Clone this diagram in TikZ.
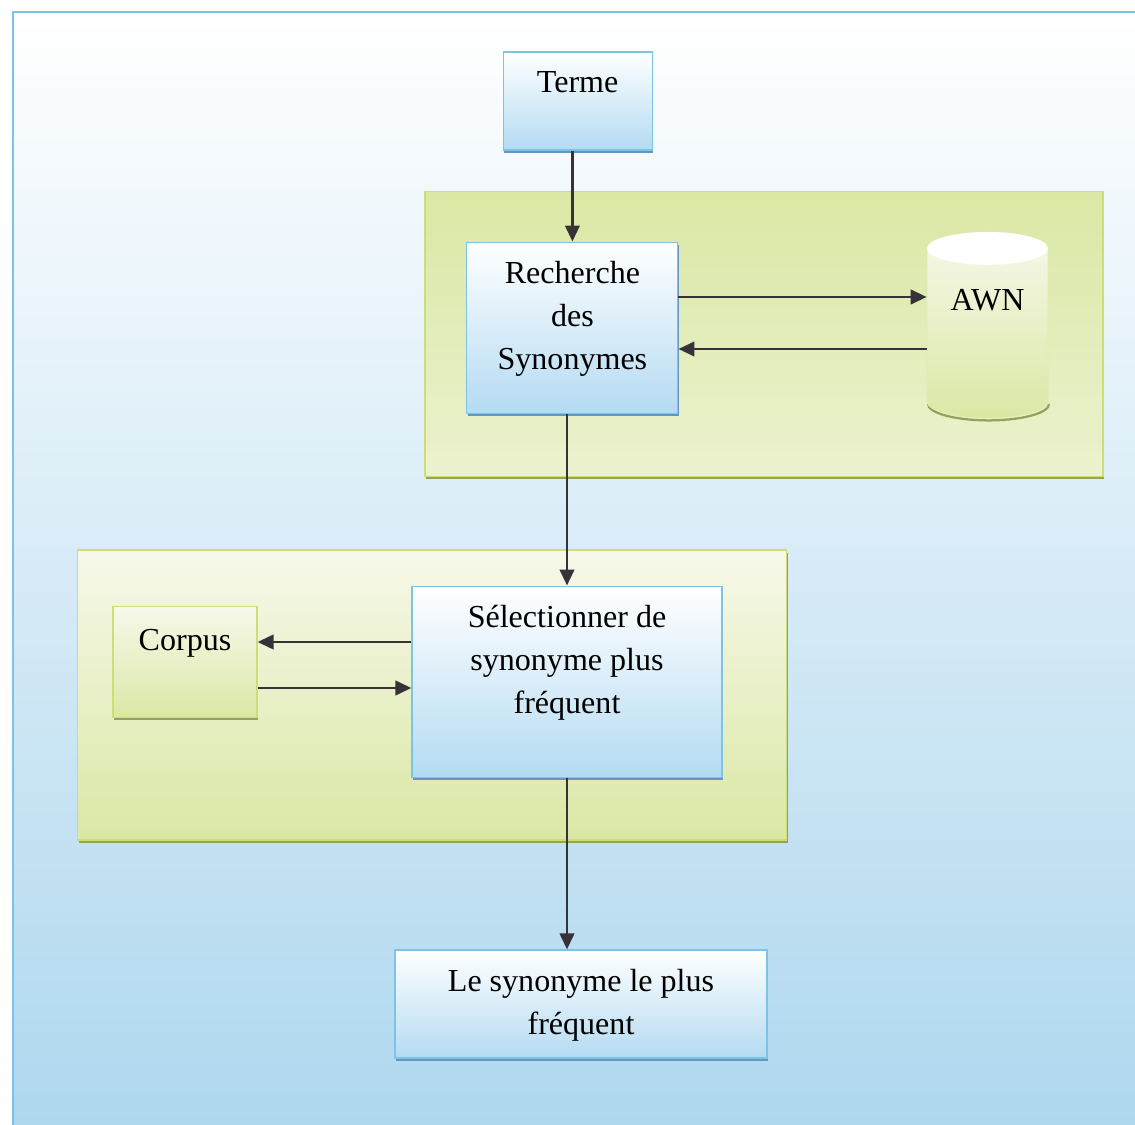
\documentclass[tikz,border=0pt]{standalone}
\usepackage{fontspec}
\setmainfont{Liberation Serif}
\usepackage{tikz}
\usetikzlibrary{calc, positioning, arrows.meta, shadows}
\definecolor{skyline}{RGB}{125,195,230}
\definecolor{skyfill}{RGB}{180,219,242}
\definecolor{skyshadow}{RGB}{100,150,195}
\definecolor{bgblue}{RGB}{172,214,238}
\definecolor{leaf}{RGB}{218,232,165}
\definecolor{leafpale}{RGB}{247,248,234}
\definecolor{leafline}{RGB}{205,222,120}
\definecolor{leafshadow}{RGB}{150,160,95}
\definecolor{ink}{RGB}{55,50,55}

\begin{document}
\begin{tikzpicture}[
  font=\fontsize{22.8}{30.5}\selectfont,
  blk/.style={draw=skyline, line width=0.8pt, top color=white, bottom color=skyfill, inner xsep=0pt, inner ysep=0pt, text height=1.025cm, align=center, drop shadow={shadow xshift=0.6pt, shadow yshift=-1.8pt, fill=skyshadow, opacity=1}},
  grp/.style={draw=leafline, line width=0.8pt, inner sep=0pt, drop shadow={shadow xshift=0.8pt, shadow yshift=-1.8pt, fill=leafshadow, opacity=1}},
  arr/.style={draw=ink, line width=2pt, -{Triangle[length=0.4cm, width=0.36cm]}}
]
\useasboundingbox (0,0) rectangle (28.375,28.1);
\begin{scope}
\clip (0,0) rectangle (28.375,28.1);
\draw[skyline, line width=0.8pt, top color=white, middle color=bgblue!40!white, bottom color=bgblue] (0.325,27.8) rectangle (29,-1);
\end{scope}

\node[grp, top color=leaf, bottom color=leaf!40!leafpale, minimum width=16.95cm, minimum height=7.125cm] (srch) at (19.1,19.74) {};
\node[grp, top color=leafpale, bottom color=leaf, minimum width=17.725cm, minimum height=7.25cm] (slct) at (10.81,10.725) {};

\node[blk, minimum width=3.725cm, text depth=1.425cm] (terme) at (14.44,25.575) {Terme};
\node[blk, minimum width=5.275cm, text height=3.177cm, text depth=1.098cm] (rs) at (14.31,19.91) {Recherche\\des\\Synonymes};
\node[blk, minimum width=7.75cm, text height=3.177cm, text depth=1.598cm] (sel) at (14.175,11.06) {Sélectionner de\\synonyme plus\\fréquent};
\node[blk, draw=leafline, top color=leafpale, bottom color=leaf, text height=1.1cm, minimum width=3.6cm, text depth=1.675cm, drop shadow={shadow xshift=0.6pt, shadow yshift=-1.8pt, fill=leafshadow, opacity=1}] (corpus) at (4.625,11.54) {Corpus};
\node[blk, minimum width=9.3cm, text height=2.101cm, text depth=0.599cm] (fin) at (14.525,3.0) {Le synonyme le plus\\fréquent};

\draw[leafshadow, line width=1.6pt] (23.2,18.0) arc[start angle=180, end angle=360, x radius=1.5125cm, y radius=0.41cm];
\path[draw=leafline!60, line width=0.5pt, top color=leafpale, bottom color=leaf] (23.175,21.89) -- (23.175,18.06) arc[start angle=180, end angle=360, x radius=1.5125cm, y radius=0.41cm] -- (26.2,21.89) arc[start angle=0, end angle=180, x radius=1.5125cm, y radius=0.41cm] -- cycle;
\fill[white] (24.6875,21.89) ellipse [x radius=1.5125cm, y radius=0.41cm];
\node[inner sep=0pt, minimum width=3.025cm, minimum height=4.65cm, text height=0.55cm, text depth=1.25cm] (awn) at (24.6875,19.975) {AWN};

\coordinate (q1) at ([yshift=0.765cm]rs.east);
\coordinate (q2) at ([yshift=-0.535cm]rs.east);
\coordinate (q3) at ([yshift=0.99cm]sel.west);
\coordinate (q4) at ([yshift=-0.16cm]sel.west);

\draw[arr] (rs.north |- terme.south) -- (rs.north);
\draw[arr] (q1) -- (q1 -| awn.west);
\draw[arr] (q2 -| awn.west) -- (q2);
\draw[arr] (sel.north |- rs.south) -- (sel.north);
\draw[arr] (q3) -- (q3 -| corpus.east);
\draw[arr] (q4 -| corpus.east) -- (q4);
\draw[arr] (sel.south) -- (sel.south |- fin.north);
\end{tikzpicture}
\end{document}
